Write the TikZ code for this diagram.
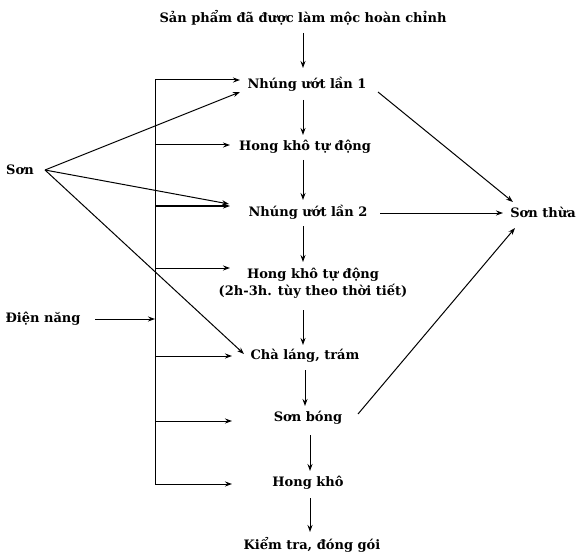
\documentclass[tikz,border=0pt]{standalone}
\usepackage{fontspec}
\setmainfont{DejaVu Serif}
\usetikzlibrary{arrows.meta}
\begin{document}
\begin{tikzpicture}[x=1pt,y=-1pt,
  lbl/.style={font=\fontsize{13}{16.5}\selectfont\bfseries, inner sep=1pt},
  arr/.style={-{Stealth[length=7pt,width=5pt]}, line width=1pt},
  ln/.style={line width=1pt}]
\useasboundingbox (0,0) rectangle (584,559);
\node[lbl] (top) at (303,18) {Sản phẩm đã được làm mộc hoàn chỉnh};
\node[lbl] (n1) at (307,84) {Nhúng ướt lần 1};
\node[lbl] (h1) at (305,147) {Hong khô tự động};
\node[lbl] (n2) at (308,212) {Nhúng ướt lần 2};
\node[lbl, align=center] (h2) at (313,283) {Hong khô tự động\\(2h-3h. tùy theo thời tiết)};
\node[lbl] (cl) at (305,356) {Chà láng, trám};
\node[lbl] (sb) at (308,418) {Sơn bóng};
\node[lbl] (hk) at (308,483) {Hong khô};
\node[lbl] (kt) at (312,545) {Kiểm tra, đóng gói};
\node[lbl] (st) at (543,212) {Sơn thừa};
\node[lbl] (son) at (20,170) {Sơn};
\node[lbl] (dn) at (43,319) {Điện năng};

% main chain
\coordinate (a0) at (303,33); \coordinate (a1) at (303,68);
\draw[arr] (a0) -- (a1);
\coordinate (b0) at (303,100); \coordinate (b1) at (303,135);
\draw[arr] (b0) -- (b1);
\coordinate (c0) at (303,160); \coordinate (c1) at (303,200);
\draw[arr] (c0) -- (c1);
\coordinate (d0) at (303,226); \coordinate (d1) at (303,262);
\draw[arr] (d0) -- (d1);
\coordinate (e0) at (303,310); \coordinate (e1) at (303,345);
\draw[arr] (e0) -- (e1);
\coordinate (f0) at (305,370); \coordinate (f1) at (305,406);
\draw[arr] (f0) -- (f1);
\coordinate (g0) at (310,435); \coordinate (g1) at (310,471);
\draw[arr] (g0) -- (g1);
\coordinate (h0) at (310,498); \coordinate (h1e) at (310,532);
\draw[arr] (h0) -- (h1e);

% bus
\coordinate (bt) at (155,80); \coordinate (bb) at (155,484);
\draw[ln] (bb) -- (bt);
\coordinate (t1) at (240,80); \draw[arr] (bt) -- (t1);
\coordinate (s2) at (155,145); \coordinate (t2) at (230,145); \draw[arr] (s2) -- (t2);
\coordinate (s3) at (155,206); \coordinate (t3) at (230,206); \draw[arr] (s3) -- (t3);
\coordinate (s4) at (155,268); \coordinate (t4) at (230,268); \draw[arr] (s4) -- (t4);
\coordinate (s5) at (155,356); \coordinate (t5) at (232,356); \draw[arr] (s5) -- (t5);
\coordinate (s6) at (155,421); \coordinate (t6) at (232,421); \draw[arr] (s6) -- (t6);
\coordinate (t7) at (232,484); \draw[arr] (bb) -- (t7);
\coordinate (dnb) at (155,319); \coordinate (dns) at (95,319);
\draw[arr] (dns) -- (dnb);

% Son lines
\coordinate (so) at (45,170);
\coordinate (u1) at (240,92); \draw[arr] (so) -- (u1);
\coordinate (u2) at (229,204); \draw[arr] (so) -- (u2);
\coordinate (u3) at (244,354); \draw[arr] (so) -- (u3);

% Son thua
\coordinate (v1s) at (378,92); \coordinate (v1e) at (513,202); \draw[arr] (v1s) -- (v1e);
\coordinate (v2s) at (380,213); \coordinate (v2e) at (503,213); \draw[arr] (v2s) -- (v2e);
\coordinate (v3s) at (358,414); \coordinate (v3e) at (515,228); \draw[arr] (v3s) -- (v3e);
\end{tikzpicture}
\end{document}
